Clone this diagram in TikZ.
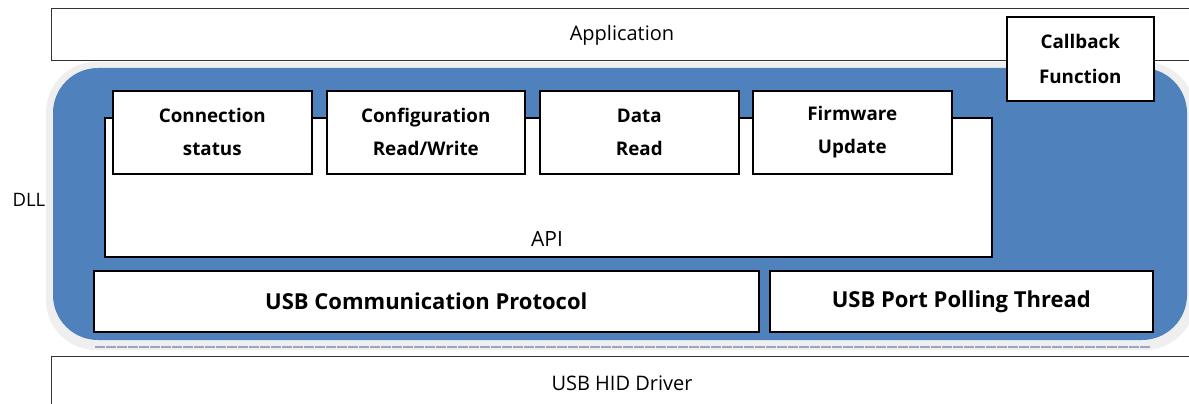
\documentclass[tikz,border=0pt]{standalone}
\usepackage{fontspec}
\setmainfont{Open Sans}
\definecolor{dllblue}{HTML}{4F81BD}
\definecolor{glow}{HTML}{EFEFEF}
\definecolor{hatch}{HTML}{9CA3C4}
\tikzset{
  wbox/.style={draw=black, line width=1.6pt, fill=white, align=center, inner sep=0pt},
  thinbox/.style={draw=black!80, line width=1pt, fill=white, inner sep=0pt},
  lbl/.style={font=\bfseries\fontsize{18.8}{35}\selectfont, align=center},
  biglbl/.style={font=\bfseries\fontsize{22}{26}\selectfont},
  reg/.style={font=\fontsize{20}{24}\selectfont}
}
\begin{document}
\begin{tikzpicture}[x=1pt,y=-1pt]
\useasboundingbox (0,0) rectangle (1189,404);
\clip (0,0) rectangle (1189,404);
% Application layer
\node[thinbox, minimum width=1150pt, minimum height=52pt, anchor=north west] (app) at (51,8) {};
\node[reg] (applbl) at (622,35) {Application};
% DLL shell
\fill[glow, rounded corners=50pt] (46,62) rectangle (1195,350);
\draw[hatch, line width=2.5pt, dash pattern=on 10pt off 1pt] (95,347) -- (1150,347);
\fill[dllblue, rounded corners=45pt] (53,68) rectangle (1187,340);
\node[font=\fontsize{18.5}{22}\selectfont, anchor=west] (dll) at (9,200) {DLL};
% API
\node[wbox, minimum width=887pt, minimum height=139pt, anchor=north west] (api) at (104,117) {};
\node[font=\fontsize{21}{26}\selectfont] (apilbl) at (547,239) {API};
% function boxes
\node[wbox, lbl, minimum width=199pt, minimum height=83pt, anchor=north west] (conn) at (112,90) {\raisebox{-2pt}{Connection}\\status};
\node[wbox, lbl, minimum width=198pt, minimum height=83pt, anchor=north west] (conf) at (326,90) {\raisebox{-2pt}{Configuration}\\Read/Write};
\node[wbox, lbl, minimum width=199pt, minimum height=83pt, anchor=north west] (data) at (539,90) {\raisebox{-2pt}{Data}\\Read};
\node[wbox, lbl, minimum width=199pt, minimum height=83pt, anchor=north west] (fw) at (752,90) {\raisebox{-2pt}{Firmware}\\Update};
% callback
\node[wbox, lbl, minimum width=147pt, minimum height=84pt, anchor=north west] (cb) at (1006,16) {Callback\\Function};
% bottom row
\node[wbox, biglbl, minimum width=665pt, minimum height=61pt, anchor=north west] (usbcp) at (93,270) {USB Communication Protocol};
\node[wbox, biglbl, minimum width=383pt, minimum height=61pt, anchor=north west] (usbpp) at (769,270) {USB Port Polling Thread};
% HID driver
\node[thinbox, minimum width=1150pt, minimum height=60pt, anchor=north west] (hid) at (51,356) {};
\node[reg] (hidlbl) at (622,383) {USB HID Driver};
\end{tikzpicture}
\end{document}
